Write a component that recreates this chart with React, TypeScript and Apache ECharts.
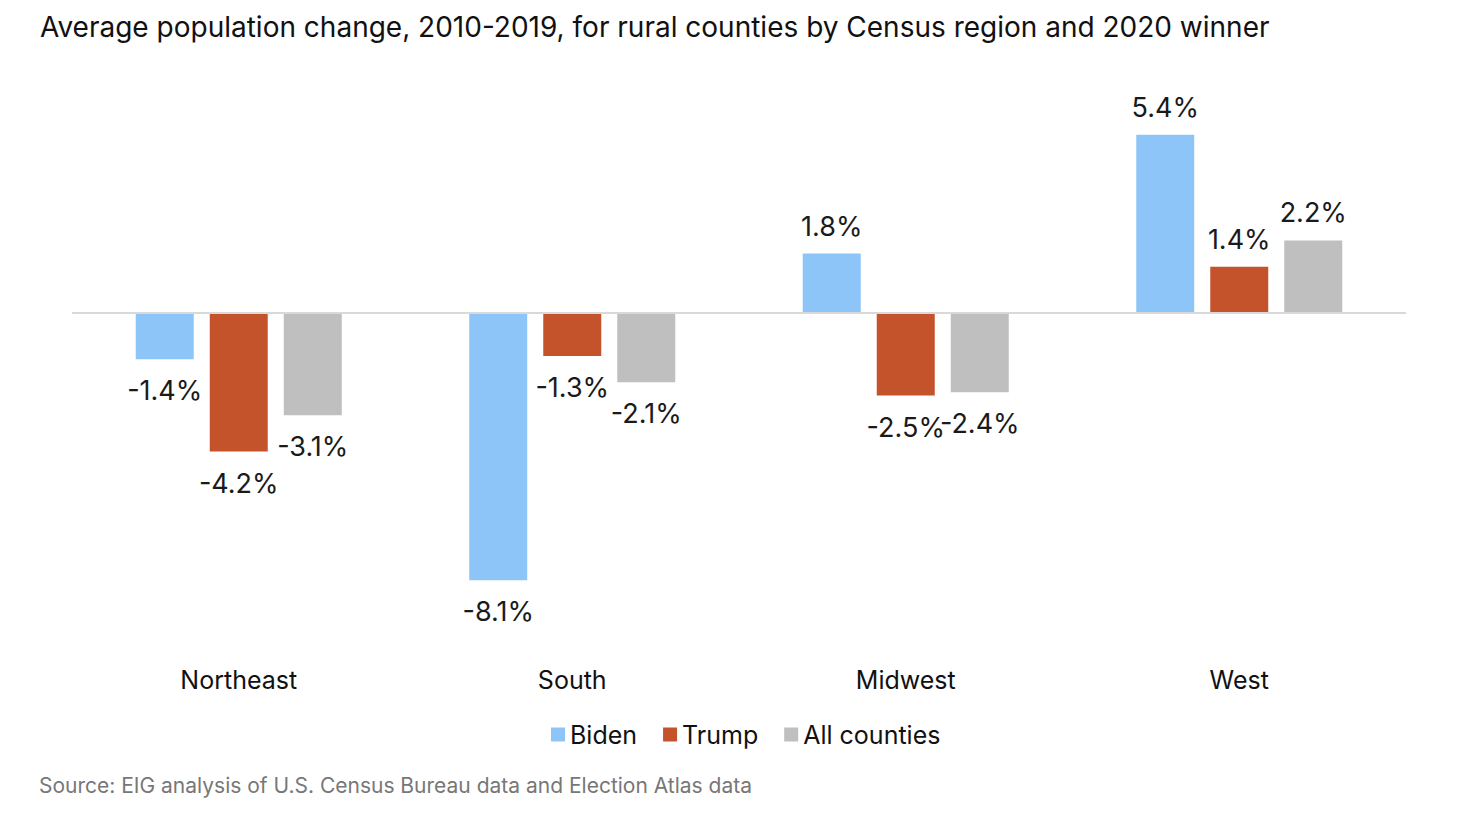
import React, { useEffect, useRef } from "react";
import * as echarts from "echarts";

const categories = ["Northeast", "South", "Midwest", "West"];
const biden = [-1.4, -8.1, 1.8, 5.4];
const trump = [-4.2, -1.3, -2.5, 1.4];
const allCounties = [-3.1, -2.1, -2.4, 2.2];
const seriesNames = ["Biden", "Trump", "All counties"];
const colors = ["#8EC5F8", "#C4532C", "#BFBFBF"];

const FONT = "Inter, 'Noto Sans', sans-serif";

export default function App() {
  const ref = useRef<HTMLDivElement>(null);
  useEffect(() => {
    const chart = echarts.init(ref.current!, null, { renderer: "svg" });
    const mkData = (arr: number[]) =>
      arr.map((v) => ({
        value: v,
        label: { position: v >= 0 ? "top" : "bottom", distance: v >= 0 ? 14 : 18 },
      }));
    const data = [biden, trump, allCounties];
    chart.setOption({
      animation: false,
      title: {
        text: "Average population change, 2010-2019, for rural counties by Census region and 2020 winner",
        left: 27,
        top: 0,
        textStyle: { fontSize: 28, fontWeight: "normal", color: "#111", fontFamily: FONT },
      },
      graphic: [
        {
          type: "text",
          left: 31,
          top: 767,
          style: {
            text: "Source: EIG analysis of U.S. Census Bureau data and Election Atlas data",
            fontSize: 21,
            fill: "#777",
            fontFamily: FONT,
          },
        },
      ],
      legend: {
        data: seriesNames,
        top: 709,
        left: 538,
        itemWidth: 14,
        itemHeight: 14,
        itemGap: 26,
        icon: "rect",
        textStyle: { fontSize: 25, color: "#111", fontFamily: FONT },
      },
      grid: { left: 64, right: 57, top: 107, height: 495 },
      xAxis: {
        type: "category",
        data: categories,
        axisLine: { show: false },
        axisTick: { show: false },
        axisLabel: { margin: 57, fontSize: 25, color: "#111", fontFamily: FONT },
      },
      yAxis: {
        type: "value",
        min: -9,
        max: 6,
        show: false,
        splitLine: { show: false },
      },
      series: seriesNames.map((name, i) => ({
        name,
        type: "bar",
        data: mkData(data[i]),
        itemStyle: { color: colors[i] },
        barWidth: 58,
        barGap: "27.6%",
        label: {
          show: true,
          fontSize: 27,
          fontFamily: FONT,
          color: "#1a1a1a",
          formatter: (p: any) => p.value.toFixed(1) + "%",
        },
        markLine:
          i === 0
            ? {
                silent: true,
                symbol: "none",
                label: { show: false },
                lineStyle: { color: "#D9D9D9", width: 2, type: "solid" },
                data: [{ yAxis: 0 }],
              }
            : undefined,
      })),
    });
    return () => chart.dispose();
  }, []);
  return <div ref={ref} style={{ width: 1455, height: 805 }} />;
}
